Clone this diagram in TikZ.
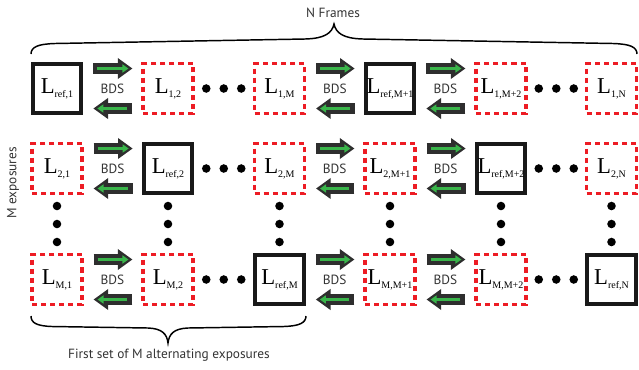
\documentclass[tikz,border=0pt]{standalone}
\usepackage{fontspec}
\setmainfont{Liberation Serif}
\newfontfamily\labelfont{PT Sans}
\usetikzlibrary{arrows.meta,calc}
\definecolor{boxred}{HTML}{ED1C24}
\definecolor{arrowdark}{HTML}{2E2E2E}
\definecolor{arrowgreen}{HTML}{39B54A}
\definecolor{textgray}{HTML}{333333}
\newcommand{\Lab}[1]{\fontsize{17}{17}\selectfont L\raisebox{-3pt}{\fontsize{7.5}{7.5}\selectfont #1}}
\newcommand{\bdsPair}[2]{%
  \draw[darkarr] ($(#1.east)+(10,-20)$) -- ($(#2.west)+(-9,-20)$);
  \draw[greenarr] ($(#1.east)+(14,-20)$) -- ($(#2.west)+(-13,-20)$);
  \draw[darkarr] ($(#2.west)+(-9,20)$) -- ($(#1.east)+(10,20)$);
  \draw[greenarr] ($(#2.west)+(-14,20)$) -- ($(#1.east)+(14,20)$);
  \node[bdstext] (bds#1#2) at ($(#1.east)!0.5!(#2.west)$) {BDS};
}
\newcommand{\rowdots}[2]{%
  \coordinate (m#1#2) at ($(#1.center)!0.5!(#2.center)$);
  \foreach \dx in {-17.5,0,17.5} \fill ($(m#1#2)+(\dx,0)$) circle[radius=3.2pt];
}
\newcommand{\coldots}[2]{%
  \coordinate (m#1#2) at ($(#1.center)!0.5!(#2.center)$);
  \foreach \dy in {-18,0,18} \fill ($(m#1#2)+(0,\dy)$) circle[radius=3.2pt];
}
\begin{document}
\begin{tikzpicture}[x=0.75pt,y=-0.75pt,
  refbox/.style={draw=black!90, line width=3pt, fill=white, minimum size=36.5pt, inner sep=0pt},
  expbox/.style={draw=boxred, line width=2.5pt, dash pattern=on 3.8pt off 3pt, fill=white, minimum size=37.3pt, inner sep=0pt},
  darkarr/.style={draw=arrowdark, line width=8.25pt, -{Triangle[length=11pt,width=15pt]}},
  greenarr/.style={draw=arrowgreen, line width=2.2pt, -{Triangle[length=4.5pt,width=6pt]}},
  bdstext/.style={font=\labelfont\fontsize{10}{11}\selectfont, text=textgray},
  sanstext/.style={font=\labelfont\fontsize{10}{11}\selectfont, text=textgray},
  bracestyle/.style={draw=black, line width=1.1pt}]
\useasboundingbox (0,0) rectangle (639,369);
% row 1
\node[refbox] (r1c1) at (57,88.5) {\Lab{ref,1}};
\node[expbox] (r1c2) at (168,88.5) {\Lab{1,2}};
\node[expbox] (r1c3) at (279.5,88.5) {\Lab{1,M}};
\node[refbox] (r1c4) at (390,88.5) {\Lab{ref,M+1}};
\node[expbox] (r1c5) at (501,88.5) {\Lab{1,M+2}};
\node[expbox] (r1c6) at (611.5,88.5) {\Lab{1,N}};
% row 2
\node[expbox] (r2c1) at (57,168.5) {\Lab{2,1}};
\node[refbox] (r2c2) at (168,168.5) {\Lab{ref,2}};
\node[expbox] (r2c3) at (279.5,168.5) {\Lab{2,M}};
\node[expbox] (r2c4) at (390,168.5) {\Lab{2,M+1}};
\node[refbox] (r2c5) at (501,168.5) {\Lab{ref,M+2}};
\node[expbox] (r2c6) at (611.5,168.5) {\Lab{2,N}};
% row 3
\node[expbox] (r3c1) at (57,279.5) {\Lab{M,1}};
\node[expbox] (r3c2) at (168,279.5) {\Lab{M,2}};
\node[refbox] (r3c3) at (279.5,279.5) {\Lab{ref,M}};
\node[expbox] (r3c4) at (390,279.5) {\Lab{M,M+1}};
\node[expbox] (r3c5) at (501,279.5) {\Lab{M,M+2}};
\node[refbox] (r3c6) at (611.5,279.5) {\Lab{ref,N}};
% arrows
\bdsPair{r1c1}{r1c2}
\bdsPair{r1c3}{r1c4}
\bdsPair{r1c4}{r1c5}
\bdsPair{r2c1}{r2c2}
\bdsPair{r2c3}{r2c4}
\bdsPair{r2c4}{r2c5}
\bdsPair{r3c1}{r3c2}
\bdsPair{r3c3}{r3c4}
\bdsPair{r3c4}{r3c5}
% dots
\rowdots{r1c2}{r1c3}
\rowdots{r1c5}{r1c6}
\rowdots{r2c2}{r2c3}
\rowdots{r2c5}{r2c6}
\rowdots{r3c2}{r3c3}
\rowdots{r3c5}{r3c6}
\coldots{r2c1}{r3c1}
\coldots{r2c2}{r3c2}
\coldots{r2c3}{r3c3}
\coldots{r2c4}{r3c4}
\coldots{r2c5}{r3c5}
\coldots{r2c6}{r3c6}
% braces
\draw[bracestyle] (31,54) .. controls (31,47) and (38,44) .. (55,43.5) -- (305,39) .. controls (325,38.5) and (332,33) .. (334,24) .. controls (336,33) and (343,38.5) .. (363,39) -- (613,43.5) .. controls (630,44) and (637,47) .. (637,54);
\draw[bracestyle] (31,316) .. controls (31,323) and (37,326) .. (52,326.5) -- (148,328) .. controls (162,328.5) and (167,334) .. (168,343) .. controls (169,334) and (174,328.5) .. (188,328) -- (284,326.5) .. controls (299,326) and (306,323) .. (306,316);
% labels
\node[sanstext] (nframes) at (333,13) {N Frames};
\node[sanstext] (firstset) at (169,355) {First set of M alternating exposures};
\node[sanstext, rotate=90] (mexp) at (13,183) {M exposures};
\end{tikzpicture}
\end{document}
